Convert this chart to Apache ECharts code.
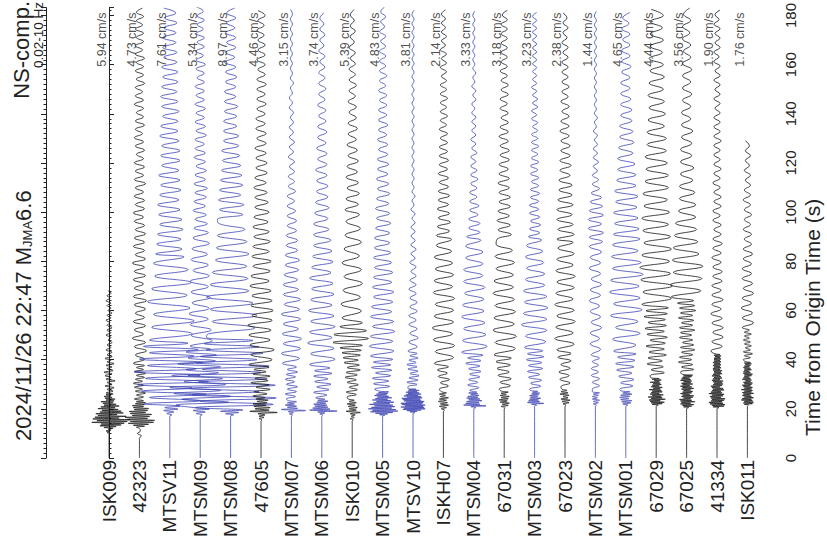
<!DOCTYPE html>
<html>
<head>
<meta charset="utf-8">
<script src="https://cdn.jsdelivr.net/npm/echarts@6/dist/echarts.min.js"></script>
<style>
html,body{margin:0;padding:0;background:#fff;}
#chart{width:827px;height:540px;}
</style>
</head>
<body>
<div id="chart"></div>
<script>
// ---------------- DATA ----------------
const stations = ['ISK009','42323','MTSV11','MTSM09','MTSM08','47605','MTSM07','MTSM06','ISK010','MTSM05','MTSV10',
  'ISKH07','MTSM04','67031','MTSM03','67023','MTSM02','MTSM01','67029','67025','41334','ISK011'];
const peakVel = ['5.94','4.73','7.61','5.34','8.97','4.46','3.15','3.74','5.39','4.83','3.81',
  '2.14','3.33','3.18','3.23','2.38','1.44','4.65','4.44','3.56','1.90','1.76'];
const timeTicks = [0,20,40,60,80,100,120,140,160,180];

// each trace: segments [startTime (s), sampleStep (s), relative amplitudes]
const tr_ISK009 = [
 [0,10,[0,0]],
 [10.3,0.35,[-2,1,-3,2,-1,4,-5,7,-9,12,-8,15,-17,18,-12,21,-16,10,-14,17,-11,8,-13,14,-9,12,-7,9,-11,6,-8,10,-5,7,-6,4,-8,5,-3,6,-4,3,-5,2,-3,4]],
 [26.5,0.7,[-3,4,-2,5,-4,3,-2,6,-3,2,-4,3,-5,4,-2,3,-3,5,-2,2,-4,3]],
 [42,1.0,[-2,3,-3,2,-2,3,-1,2,-3,2,-2,3,-2,1,-3,2,-2,3,-1,2,-2,2,-3,1,-2,2,-1]]
];
const tr_42323 = [
 [0,3,[0,0,0]],
 [8,1,[0,2,-2,1,0]],
 [12.5,0.4,[-3,5,-6,9,-11,14,-9,15,-12,8,-14,10,-7,12,-9,6,-10,8,-5,9,-6,4,-7,5,-4,6,-3,4]],
 [24,0.8,[-5,4,-3,6,-4,3,-5,4,-6,3,-4,5,-3,6,-5,4,-3,5]],
 [38.5,1.7,[-6,5,-4,7,-5,6,-7,4,-5,6,-6,5,-4,6,-5,7,-6,5,-5,4,-6,6,-5,5,-7,6,-4,5,-6,5,-5,6,-4,5,-5,4,-6,5,-4,5,
   -5,4,-4,6,-5,4,-4,5,-5,4,-3,5,-4,4,-5,3,-4,5,-4,4,-3,4,-5,4,-4,3,-4,5,-3,4,-4,4,-3,5,-4,3,-4,4,-3,4,-4,3,-3,4,-3,3]]
];
const tr_MTSV11 = [
 [0,8.5,[0,0,0]],
 [17.5,0.6,[2,-3,4,-6,8,-5,10]],
 [22,1.3,[-25,30,-20,36,-28,22,-32,38,-24,30,-35,26,-22,33,-30,24,-20,28,-26,18]],
 [48,2.6,[-20,22,-18,24,-16,20,-22,17,-18,21,-15,18,-16,14]],
 [83,2.0,[-14,12,-13,11,-12,13,-10,12,-11,10,-12,9,-10,11,-9,10,-11,9,-8,10,-9,10,-8,9,-10,8,-9,8,-7,9,-8,8,-9,7,-8,8,-7,8,-8,7,-6,7,-7,6,-7,6,-6,7,-5,6,-6]]
];
const tr_MTSM09 = [
 [0,8.5,[0,0,0]],
 [17.5,0.6,[2,-4,5,-7,9,-6]],
 [21.5,1.2,[-24,28,-18,30,-26,20,-30,25,-16,22,-28,18,-14,20,-22,15,-12,16,-14,10]],
 [45.5,2.2,[-10,12,-9,11,-10,8,-11,9,-8,10,-9,8,-10,9,-7,8,-9,7,-8,9,-7,8]],
 [93.5,1.8,[-6,7,-5,6,-7,5,-6,6,-5,7,-6,5,-5,6,-4,5,-6,5,-5,4,-5,6,-4,5,-5,4,-4,5,-5,4,-4,4,-5,4,-3,4,-4,5,-4,3,-4,4,-3,4,-4,3,-3,4,-3,3,-4]]
];
const tr_MTSM08 = [
 [0,8.5,[0,0,0]],
 [17.5,0.5,[3,-5,8,-10,12]],
 [20.5,1.3,[-35,42,-30,45,-38,28,-40,44,-32,36,-42,30,-28,38,-34,26,-30,32,-24,28,-26,22,-24]],
 [50.5,2.5,[-22,24,-18,26,-20,22,-24,18,-20,17,-18,16,-15,18,-14,16,-13,14,-12]],
 [97,2.0,[-13,12,-11,13,-12,10,-11,12,-10,11,-9,10,-8,9,-9,8,-7,8,-7,6,-7,6,-6,7,-6,5,-6,5,-5,6,-5,5,-6,4,-5,5,-4,5,-5,4,-4,5,-4,4]]
];
const tr_47605 = [
 [0,7.5,[0,0,0]],
 [15.5,0.5,[1,-2,3,-2,4,-3,16,-11,8,-6,9,-7,5,-8,6,-4,7,-5,4]],
 [25.2,0.9,[-8,6,-7,9,-5,8,-10,7,-6,9,-8,5,-7,8]],
 [38,2.0,[-12,11,-10,13,-11,9,-12,10,-13,11,-9,12,-10,11,-9,10,-11,8,-10,9,-8,10,-9,8,-8,9,-7,8,-8,7,-7,8,-6,7,-6,6,-7,5,-6,6,
   -5,6,-5,5,-6,5,-4,5,-5,4,-5,4,-4,5,-4,4,-4,5,-4,4,-3,4,-4,4,-3,4,-3,3,-4,3,-3,4,-3]]
];
const tr_MTSM07 = [
 [0,8.5,[0,0,0]],
 [17.5,0.45,[1,-2,2,-3,14,-10,6,-4,5,-6,3,-4,5,-3]],
 [24,1.0,[-5,4,-6,5,-4,6,-5,3,-6,4,-5,6,-4,5]],
 [38.5,2.0,[-9,8,-10,9,-8,10,-9,7,-8,9,-10,8,-7,9,-8,7,-8,6,-7,7,-6,8,-6,6,-5,6,-5,5,-4,5,-4,4,-4,3,-4,4,-3,3,-3,3,
   -2,3,-3,2,-2,3,-2,2,-2,2,-1,2,-2,1,-2,1,-1,2,-1,1,-1,1,-1,1,-1,1,-1,1,-1,1,-1,1,-1]]
];
const tr_MTSM06 = [
 [0,8.5,[0,0,0]],
 [17.5,0.4,[1,-2,3,-4,15,-12,8,-9,6,-7,5,-8,4,-5,6,-4,3]],
 [24.5,1.1,[-6,5,-8,7,-5,9,-7,6,-8,10,-7,8]],
 [38,2.2,[-12,13,-11,12,-14,10,-12,13,-11,12,-13,10,-11,12,-10,11,-12,9,-10,11,-9,10,-8,9,-8,7,-8,6,-7,7,-6,6,-5,6,-5,5,
   -6,5,-4,5,-5,4,-4,5,-4,4,-3,4,-4,3,-3,4,-3,3,-3,3,-2,3,-3,2,-2,3,-2,2,-2,2]]
];
const tr_ISK010 = [
 [0,7.5,[0,0,0]],
 [15.5,0.5,[1,-2,2,-1,3,-2,8,-6,4,-3,5,-4,3,-5,4,-3,2,-4]],
 [24.8,1.0,[-5,4,-6,5,-3,6,-5,4,-7,5,-6,8,-5,7,-8,6,-9,8,-10,9,-12,10]],
 [47,1.6,[-19,16,-18,14,-12,10]],
 [57,2.8,[-10,9,-11,8,-9,10,-8,9,-10,7,-8,9,-7,8,-6,7]],
 [101,2.2,[-7,6,-6,7,-5,6,-6,5,-5,6,-4,5,-5,4,-4,5,-4,4,-3,4,-4,3,-3,4,-3,3,-3,3,-2,3,-3,2,-2,3,-2,2,-2,2]]
];
const tr_MTSM05 = [
 [0,8.5,[0,0,0]],
 [17.3,0.3,[2,-3,5,-7,10,-12,15,-10,13,-14,9,-11,12,-8,10,-13,7,-9,11,-6,8,-10,5,-7,9,-5,6,-8,4,-6,5,-4,6,-3]],
 [28,1.1,[-8,7,-9,6,-10,8,-7,9,-11,8,-9,10]],
 [41.5,2.0,[-12,11,-13,10,-12,12,-10,11,-12,9,-11,10,-9,11,-10,9,-9,10,-8,9,-9,8,-8,7,-8,7,-7,8,-6,7,-7,6,-6,7,-5,6,
   -6,5,-5,6,-5,5,-4,5,-5,4,-4,5,-4,4,-4,4,-3,4,-4,3,-3,4,-3,3,-3,3,-3,3,-2,3,-3,2,-2,3,-2,2]]
];
const tr_MTSV10 = [
 [0,9,[0,0,0]],
 [18.5,0.25,[2,-3,4,-6,8,-10,12,-9,11,-12,10,-8,12,-11,9,-12,10,-7,11,-9,8,-10,7,-11,9,-6,8,-9,5,-7,8,-5,6,-7,4,-5,6,-4,3,-5]],
 [29,0.9,[-5,4,-6,5,-4,6,-3,5,-5,4,-6,3,-4,5,-3,4]],
 [43.5,1.8,[-5,4,-4,5,-3,4,-4,3,-4,4,-3,4,-3,3,-4,3,-3,3,-2,3,-3,2,-2,3,-2,2,-2,2,-2,2,-1,2,-2,1,-1,2,-1,1,-1,1,
   -1,1,-1,1,-1,1,-1,1,-1,1,-1,1,-1,1,-1,1,-1,1,-1,1,-1,1,-1,1,-1,1,-1,1,-1,1,-1,1,-1,1,-1,1,-1,1]]
];
const tr_ISKH07 = [
 [0,9.5,[0,0,0]],
 [19.5,0.5,[1,-2,3,-4,5,-3,4,-5,3,-4,5,-3,2,-4,3,-2]],
 [28,1.3,[-4,5,-3,6,-5,4,-6,5]],
 [38.5,2.4,[-9,10,-8,11,-10,9,-11,10,-9,10,-8,11,-10,9,-9,10,-8,9,-9,8,-7,8]],
 [90.5,1.8,[-7,6,-6,7,-5,6,-6,5,-5,6,-5,5,-4,5,-5,4,-4,5,-4,4,-4,4,-3,4,-4,3,-3,4,-3,3,-3,4,-3,3,-3,3,-2,3,-3,3,
   -2,3,-3,2,-2,3,-2,2,-2,2,-2,2]]
];
const tr_MTSM04 = [
 [0,10,[0,0,0]],
 [20.5,0.35,[2,-3,12,-10,6,-8,5,-7,8,-5,6,-7,4,-6,5,-3,4,-5,3]],
 [27.5,1.1,[-4,5,-6,4,-5,6,-4,7,-5,6,-8,7,-6,9]],
 [43,2.4,[-12,13,-11,12,-10,11,-12,10,-11,10,-9,11,-10,9,-10,9,-8,9,-8,7]],
 [90,1.8,[-7,6,-5,6,-5,4,-4,5,-4,3,-4,3,-3,4,-3,3,-3,2,-3,3,-2,2,-3,2,-2,2,-2,2,-2,1,-2,2,-1,2,-2,1,-1,2,-1,1,
   -1,1,-1,1,-1,1,-1,1,-1,1,-1,1]]
];
const tr_67031 = [
 [0,10,[0,0,0]],
 [20.5,0.45,[1,-3,4,-2,5,-4,3,-5,4,-3,5,-4,2,-3,4,-3]],
 [28,1.4,[-5,6,-4,7,-6,5,-7,6,-8,7]],
 [42,2.5,[-10,11,-9,12,-11,10,-10,11,-9,10,-11,9,-10,9,-8,10,-9,8,-8]],
 [89,1.9,[-7,7,-6,6,-7,5,-6,6,-5,6,-5,5,-6,5,-5,4,-5,5,-4,5,-4,4,-5,4,-4,4,-3,4,-4,3,-4,4,-3,4,-3,3,-4,3,-3,3,
   -3,3,-3,3,-3,3,-3,3,-2,3]]
];
const tr_MTSM03 = [
 [0,10.5,[0,0,0]],
 [21.5,0.35,[2,-3,9,-7,5,-6,4,-5,6,-4,3,-5,4,-3,5,-2,3,-4]],
 [28,1.2,[-5,6,-4,7,-6,5,-7,8,-6,7,-8,9,-7,8]],
 [45,2.3,[-10,11,-9,12,-13,12,-11,13,-10,12,-11,10,-9,10,-8,9,-9,8,-8,7]],
 [90,1.6,[-6,5,-5,6,-4,5,-5,4,-5,4,-4,5,-4,4,-3,4,-4,3,-4,4,-3,3,-3,4,-3,3,-3,3,-2,3,-3,2,-3,3,-2,3,-2,2,-3,2,
   -2,2,-2,2,-2,2,-2,2,-2,2,-2,2,-2,2,-2,2,-2,2]]
];
const tr_67023 = [
 [0,10.5,[0,0,0]],
 [21.5,0.5,[1,-2,4,-3,5,-4,3,-2,4,-5,3,-4,2,-3]],
 [29,1.5,[-4,5,-5,4,-6,5,-4,6,-7,6]],
 [44,2.3,[-8,9,-10,8,-9,10,-8,9,-10,8,-9,9,-8,10,-9,8,-8,9,-7,8]],
 [89,2.0,[-8,9,-7,8,-8,7,-8,8,-7,7,-6,7,-6,5,-5,6,-5,5,-4,5,-4,4,-5,4,-4,4,-3,4,-4,3,-3,4,-3,3,-3,3,-3,3,-2,3,
   -3,2,-2,3,-2,2,-2]]
];
const tr_MTSM02 = [
 [0,10.5,[0,0,0]],
 [21.5,0.5,[1,-2,3,-2,4,-3,2,-3,3,-2,4,-3]],
 [28,1.4,[-3,4,-3,4,-4,3,-4,3,-3,4]],
 [42,2.2,[-4,5,-5,4,-5,6,-4,5,-5,4,-6,5,-5,6,-4,5,-6,5,-5,6,-6]],
 [88,1.8,[7,-6,8,-7,6,-7,8,-6,7,-5,6,-4,4,-3,3,-3,2,-2,3,-2,2,-2,2,-1,2,-2,1,-1,2,-1,1,-1,1,-1,1,-1,1,-1,1,-1,
   1,-1,1,-1,1,-1,1,-1,1,-1,1,-1,1]]
];
const tr_MTSM01 = [
 [0,10.5,[0,0,0]],
 [21.5,0.45,[2,-3,5,-4,6,-5,3,-6,4,-5,6,-3,4,-5]],
 [28,1.3,[-6,7,-5,8,-7,6,-9,8,-10,9,-8,10]],
 [43.5,2.4,[-12,10,-13,14,-10,12,-15,16,-12,14,-16,13,-15,17,-13,15,-14,12,-13,14]],
 [91,2.2,[-12,13,-11,12,-12,11,-10,12,-11,10,-9,10,-8,9,-8,7,-7,8,-6,7,-6,6,-5,6,-5,5,-5,4,-5,4,-4,5,-4,4,-4,4,
   -3,4,-4,3,-3,4]]
];
const tr_67029 = [
 [0,10.5,[0,0,0]],
 [21.5,0.3,[2,-4,6,-5,8,-6,4,-7,9,-5,6,-8,5,-4,7,-6,3,-5,6,-4,5,-7,4,-3,6,-5,3,-4,5,-3,4,-6,3,-2,5,-4,3,-5]],
 [33.5,1.2,[-6,8,-5,7,-9,6,-8,10,-7,8,-10,9,-6,11,-9,8,-11,10,-8,9,-12,11,-10,12]],
 [62.5,2.5,[-14,15,-13,16,-15,14,-16,13,-14,15,-12,14,-13,12,-14,13,-12,11,-13,12,-11,12,-10,11,-11,10,-9,10,-9,8,
   -8,9,-7,8,-8,7,-7,8,-6,7,-7,6,-6,7,-6,6,-6,7,-5]]
];
const tr_67025 = [
 [0,10,[0,0,0]],
 [20.5,0.3,[2,-3,5,-4,7,-6,4,-5,8,-6,5,-7,4,-3,6,-5,7,-4,3,-6,5,-4,6,-3,4,-5,7,-4,5,-6,3,-4,6,-5,4,-3,5,-6,4,-5,3,-4,5,-3,6,-4]],
 [35,1.0,[-6,7,-5,6,-8,5,-7,6,-5,8,-6,7,-4,6,-7,5,-6,8,-7,6,-5,7,-8,6,-6,9,-7,8,-9,7]],
 [65.5,2.5,[-15,14,-16,15,-13,16,-14,12,-13,11,-12,10,-11,9,-8,9,-7,8,-7,6,-6,7,-6,5,-6,5,-5,6,-5,4,-5,4,-4,5,-4,4,
   -4,5,-4,4,-3,4,-4,3,-4,4,-3,3]]
];
const tr_41334 = [
 [0,10,[0,0,0]],
 [20.5,0.3,[2,-4,7,-5,8,-7,6,-8,5,-6,7,-5,8,-6,4,-7,6,-5,7,-8,5,-6,4,-5,7,-4,6,-5,3,-6,5,-4,6,-3,5,-4,6,-5,3,-4,
   5,-3,4,-5,3,-4,5,-3,4,-3,5,-4,3,-4,4,-3,3,-4,4,-3,3,-4,4,-3,3,-3,4,-3,3,-2,4,-3,3,-2]],
 [43.5,1.9,[-6,5,-5,6,-4,6,-5,5,-6,4,-5,6,-5,4,-5,5,-4,5,-4,4,-5,4,-4,5,-4,4,-3,4,-4,3,-4,4,-3,4,-3,3,-4,3,-3,4,
   -3,3,-3,3,-3,4,-3,3,-3,3,-3,3,-2,3,-3,3,-2,3,-3,3,-2,3,-3,2,-3,3,-2,3,-2,3,-3,2,-2,3]]
];
const tr_ISK011 = [
 [0,10.5,[0,0,0]],
 [21.5,0.3,[1,-3,5,-4,6,-3,5,-6,4,-5,6,-3,4,-5,3,-4,6,-5,4,-3,5,-6,4,-3,5,-4,3,-5,4,-3,5,-4,3,-2,4,-5,3,-4,2,-3,
   4,-3,5,-4,3,-4,2,-3,4,-3,3,-4,2,-3,3,-2,4,-3,3,-2]],
 [40,0.8,[-4,3,-3,5,-4,3,-2,4,-3,3,-4,2,-3,4,-3,2]],
 [53,2.0,[-5,6,-5,5,-6,4,-5,6,-4,5,-5,4,-5,4,-4,5,-4,4,-3,4,-4,3,-3,4,-3,3,-4,3,-3,3,-2,3,-3,2,-2,3,-2,2,-2]]
];
const traces = [tr_ISK009,tr_42323,tr_MTSV11,tr_MTSM09,tr_MTSM08,tr_47605,tr_MTSM07,tr_MTSM06,tr_ISK010,tr_MTSM05,tr_MTSV10,
  tr_ISKH07,tr_MTSM04,tr_67031,tr_MTSM03,tr_67023,tr_MTSM02,tr_MTSM01,tr_67029,tr_67025,tr_41334,tr_ISK011];

// ---------------- CHART ----------------
const SPACING = 30;        // x-units between station baselines
const T_TOP = 183.2;       // top of the time axis
const FONT = '"Liberation Sans", Arial, Helvetica, sans-serif';
const BLUE = '#3c44b4', BLACK = '#151515';

function buildTrace(segs, i) {
  const pts = [];
  segs.forEach(([t0, dt, vals]) => vals.forEach((a, k) => pts.push([i * SPACING + a, +(t0 + k * dt).toFixed(3)])));
  return pts;
}

const series = traces.map((segs, i) => ({
  type: 'line', xAxisIndex: 0, yAxisIndex: 0,
  data: buildTrace(segs, i),
  showSymbol: false, symbol: 'none', smooth: 0.45,
  lineStyle: { width: 0.8, color: stations[i].startsWith('MTS') ? BLUE : BLACK },
  silent: true, z: 2
}));

series.push({
  type: 'scatter', xAxisIndex: 0, yAxisIndex: 0,
  symbolSize: 0.1, itemStyle: { color: 'rgba(0,0,0,0)' }, silent: true, z: 5,
  data: peakVel.map((v, i) => [i * SPACING - 1, 181.2]),
  label: {
    show: true, position: 'inside', rotate: 90, align: 'right', verticalAlign: 'bottom',
    fontFamily: FONT, fontSize: 12.5, color: '#222',
    formatter: p => peakVel[p.dataIndex] + ' cm/s'
  }
});

const chart = echarts.init(document.getElementById('chart'), null, { renderer: 'svg' });
chart.setOption({
  animation: false,
  backgroundColor: '#fff',
  grid: [
    { left: 46, right: 49, top: 0, bottom: 82 },
    { left: 93.8, right: 64.4, top: 0, bottom: 82 }
  ],
  xAxis: [
    { type: 'value', gridIndex: 0, min: -62.2, max: 660.2, show: false },
    { type: 'category', gridIndex: 1, data: stations, boundaryGap: true, position: 'bottom',
      axisLine: { show: false }, axisTick: { show: false }, splitLine: { show: false },
      axisLabel: { rotate: 90, margin: 4, fontSize: 19, fontFamily: FONT, color: '#222', interval: 0 } }
  ],
  yAxis: [
    { type: 'value', gridIndex: 0, position: 'right', min: 0, max: T_TOP, interval: 20,
      axisLine: { show: true, lineStyle: { color: '#222', width: 1 } },
      axisTick: { show: true, inside: false, length: 5, lineStyle: { color: '#222' } },
      minorTick: { show: true, splitNumber: 10, length: 2.5, lineStyle: { color: '#222' } },
      splitLine: { show: false },
      axisLabel: { rotate: 90, margin: 5, fontSize: 15, fontFamily: FONT, color: '#222',
        formatter: v => timeTicks.includes(v) ? String(v) : '' } },
    { type: 'value', gridIndex: 0, position: 'left', min: 0, max: T_TOP, interval: 20,
      axisLine: { show: true, lineStyle: { color: '#222', width: 1 } },
      axisTick: { show: true, inside: false, length: 5, lineStyle: { color: '#222' } },
      minorTick: { show: true, splitNumber: 10, length: 2.5, lineStyle: { color: '#222' } },
      splitLine: { show: false }, axisLabel: { show: false } },
    { type: 'value', gridIndex: 1, show: false, min: 0, max: T_TOP }
  ],
  graphic: [
    { type: 'text', x: 23, y: 441, rotation: Math.PI / 2, silent: true,
      style: { text: '2024/11/26 22:47 M{s|JMA}6.6', fill: '#222', font: '22px ' + FONT,
        align: 'left', verticalAlign: 'middle',
        rich: { s: { fontSize: 13, fontFamily: FONT, fill: '#222', verticalAlign: 'bottom', padding: [9, 0, 0, 0] } } } },
    { type: 'text', x: 21, y: 1, rotation: Math.PI / 2, silent: true,
      style: { text: 'NS-comp.', fill: '#222', font: '22px ' + FONT, align: 'right', verticalAlign: 'middle' } },
    { type: 'text', x: 38, y: 2, rotation: Math.PI / 2, silent: true,
      style: { text: '0.02-10 Hz', fill: '#222', font: '13.5px ' + FONT, align: 'right', verticalAlign: 'middle' } },
    { type: 'text', x: 812, y: 436, rotation: Math.PI / 2, silent: true,
      style: { text: 'Time from Origin Time (s)', fill: '#222', font: '21px ' + FONT, align: 'left', verticalAlign: 'middle' } }
  ],
  series: series
});
</script>
</body>
</html>
